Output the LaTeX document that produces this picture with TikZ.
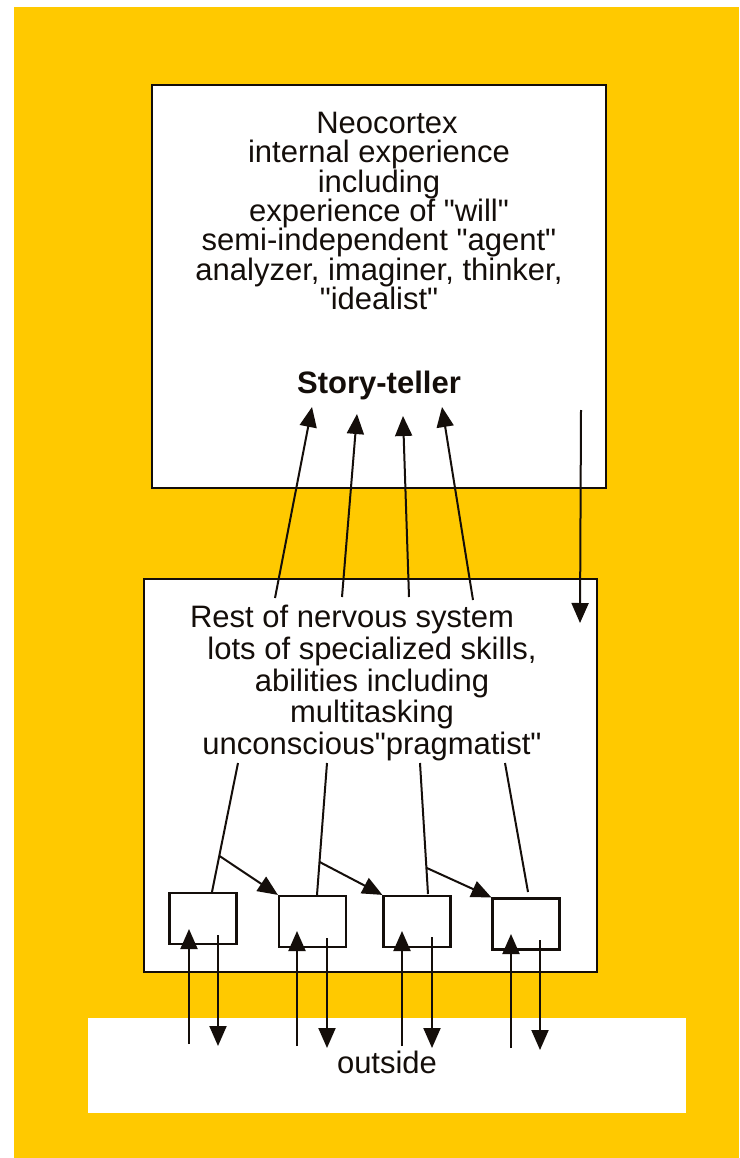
\documentclass[tikz,border=0pt]{standalone}
\usepackage{fontspec}
\setmainfont{Liberation Sans}[Ligatures=TeXOff]
\usetikzlibrary{arrows.meta}
\definecolor{bgyellow}{RGB}{255,201,0}
\definecolor{ink}{RGB}{20,14,10}
\tikzset{
  panel/.style={draw=ink, fill=white, line width=2.6pt, inner sep=0pt},
  unitbox/.style={draw=ink, fill=white, line width=2.2pt, inner sep=0pt,
    minimum width=67pt, minimum height=51pt},
  label/.style={inner sep=0pt, text=ink, align=center},
  link/.style={draw=ink, line width=2pt},
  arr/.style={link, -{Triangle[length=20pt,width=17pt]}},
}
\begin{document}
\begin{tikzpicture}[x=1pt,y=-1pt]
  \useasboundingbox (0,0) rectangle (739,1158);
  % backdrop
  \fill[white] (0,0) rectangle (739,1158);
  \fill[bgyellow] (14,7) rectangle (739,1158);

  % main panels
  \node[panel, minimum width=454pt, minimum height=403pt] (neo) at (379,286.5) {};
  \node[panel, minimum width=453pt, minimum height=393pt] (rest) at (370.5,775.5) {};
  \node[fill=white, inner sep=0pt, minimum width=598pt, minimum height=95pt] (out) at (387,1065.5) {};

  % texts
  \node[label, anchor=north, font=\fontsize{31}{29.3}\selectfont] (neotext) at (379,112)
    {\hspace*{16pt}Neocortex\\internal experience\\including\\experience of "will"\\
     semi-independent "agent"\\analyzer, imaginer, thinker,\\"idealist"};
  \node[label, anchor=base, font=\fontsize{31}{31}\selectfont\bfseries] (story) at (379,393) {Story-teller};
  \node[label, anchor=north, font=\fontsize{31}{31.7}\selectfont] (resttext) at (372,605)
    {Rest of nervous system\hspace*{40pt}\\lots of specialized skills,\\abilities including\\
     multitasking\\unconscious"pragmatist"};
  \node[label, font=\fontsize{31}{31}\selectfont] (outtext) at (387,1062) {outside};

  % skill units
  \node[unitbox] (s1) at (203,918.5) {};
  \node[unitbox] (s2) at (312.5,921.5) {};
  \node[unitbox] (s3) at (417,921.5) {};
  \node[unitbox] (s4) at (526,924) {};

  % upward links into the neocortex
  \coordinate (u1a) at (275,598); \coordinate (u1b) at (312,407);
  \coordinate (u2a) at (342,597); \coordinate (u2b) at (357,414);
  \coordinate (u3a) at (409,597); \coordinate (u3b) at (403,416);
  \coordinate (u4a) at (473,600); \coordinate (u4b) at (442,407);
  \draw[arr] (u1a) -- (u1b);
  \draw[arr] (u2a) -- (u2b);
  \draw[arr] (u3a) -- (u3b);
  \draw[arr] (u4a) -- (u4b);

  % downward link from the neocortex
  \coordinate (d0a) at (581,410); \coordinate (d0b) at (580,623);
  \draw[arr] (d0a) -- (d0b);

  % links from the text down to the skill units
  \coordinate (t1) at (238,763);
  \coordinate (t2) at (327,763);
  \coordinate (t3) at (420,763);
  \coordinate (t4) at (505,763);
  \coordinate (e4) at (528,892);
  \draw[link] (t1) -- (s1.north -| 212,0) coordinate[pos=0.72] (j1);
  \draw[link] (t2) -- (s2.north -| 317,0) coordinate[pos=0.75] (j2);
  \draw[link] (t3) -- (428,894) coordinate[pos=0.80] (j3);
  \draw[link] (t4) -- (e4);
  \draw[arr] (j1) -- (s2.north west);
  \draw[arr] (j2) -- (s3.north west);
  \draw[arr] (j3) -- (s4.north west);

  % exchanges between the units and the outside
  \coordinate (o1) at (189,1044); \coordinate (i1) at (189,929);
  \coordinate (p1) at (218,935);  \coordinate (q1) at (218,1046);
  \coordinate (o2) at (297,1046); \coordinate (i2) at (297,931);
  \coordinate (p2) at (327,938);  \coordinate (q2) at (327,1048);
  \coordinate (o3) at (402,1046); \coordinate (i3) at (402,931);
  \coordinate (p3) at (432,937);  \coordinate (q3) at (432,1048);
  \coordinate (o4) at (511,1048); \coordinate (i4) at (511,934);
  \coordinate (p4) at (540,940);  \coordinate (q4) at (540,1050);
  \foreach \k in {1,2,3,4}{
    \draw[arr] (o\k) -- (i\k);
    \draw[arr] (p\k) -- (q\k);
  }
\end{tikzpicture}
\end{document}
